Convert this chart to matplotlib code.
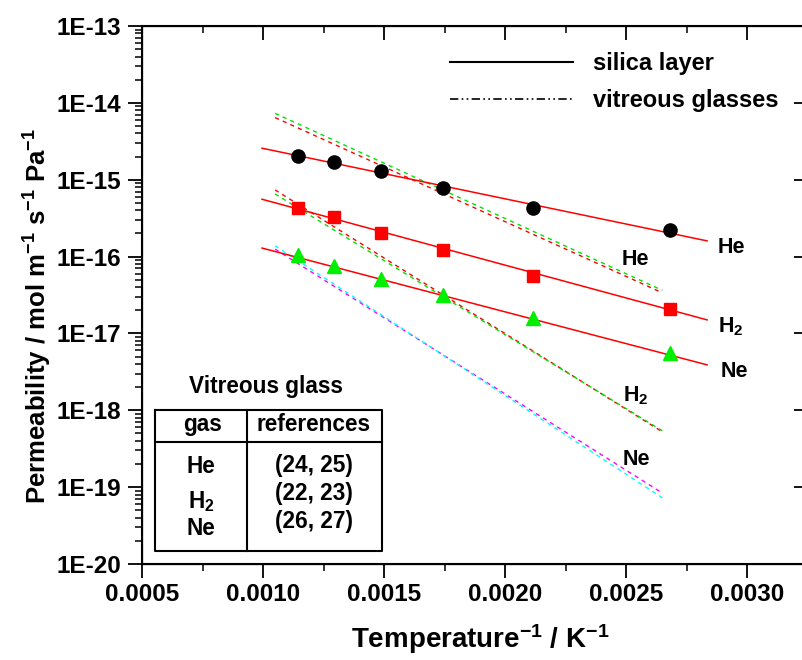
import numpy as np
import matplotlib
matplotlib.use("Agg")
import matplotlib.pyplot as plt
from matplotlib.lines import Line2D
from matplotlib.ticker import FixedLocator, NullLocator, FixedFormatter, NullFormatter

plt.rcParams['font.family'] = ['Liberation Sans', 'DejaVu Sans']
plt.rcParams['font.weight'] = 'bold'
plt.rcParams['mathtext.fontset'] = 'custom'
plt.rcParams['mathtext.rm'] = 'Liberation Sans:bold'
plt.rcParams['mathtext.it'] = 'Liberation Sans:bold'
plt.rcParams['mathtext.bf'] = 'Liberation Sans:bold'
plt.rcParams['mathtext.default'] = 'bf'

# measured points (1/T for 873..373 K)
inv_t = [0.001145, 0.001294, 0.001486, 0.001745, 0.002114, 0.002681]
he_perm = [2.04e-15, 1.70e-15, 1.30e-15, 7.8e-16, 4.3e-16, 2.22e-16]
h2_perm = [4.3e-16, 3.28e-16, 2.03e-16, 1.22e-16, 5.6e-17, 2.09e-17]
ne_perm = [1.05e-16, 7.6e-17, 5.1e-17, 3.2e-17, 1.6e-17, 5.6e-18]

# silica layer fits (end points of straight Arrhenius lines)
fit_x = [0.000996, 0.002835]
he_fit = [2.57e-15, 1.60e-16]
h2_fit = [5.57e-16, 1.50e-17]
ne_fit = [1.29e-16, 3.9e-18]

# vitreous glass literature lines
vit_x = [0.00105, 0.00265]
he_vit_1 = [7.3e-15, 3.64e-17]
he_vit_2 = [6.43e-15, 3.38e-17]
h2_vit_1 = [7.36e-16, 5.25e-19]
h2_vit_2 = [6.53e-16, 5.41e-19]
ne_vit_1 = [1.38e-16, 7.28e-20]
ne_vit_2 = [1.25e-16, 8.38e-20]

x_ticks = [0.0005, 0.0010, 0.0015, 0.0020, 0.0025, 0.0030]
x_tick_labels = ['0.0005', '0.0010', '0.0015', '0.0020', '0.0025', '0.0030']
x_minor = [0.00075, 0.00125, 0.00175, 0.00225, 0.00275, 0.00325]
y_exps = [-20, -19, -18, -17, -16, -15, -14, -13]
y_tick_labels = ['1E-20', '1E-19', '1E-18', '1E-17', '1E-16', '1E-15', '1E-14', '1E-13']

table_gas = ['He', 'H$_2$', 'Ne']
table_refs = ['(24, 25)', '(22, 23)', '(26, 27)']

W, H = 802, 660
fig = plt.figure(figsize=(W / 100, H / 100), dpi=100)


def fx(px):
    return px / W


def fy(py):
    return 1 - py / H


ax = fig.add_axes([fx(142), fy(564), (807.5 - 142) / W, (564 - 26) / H])
ax.set_yscale('log')
ax.set_xlim(0.0005, 0.00325)
ax.set_ylim(1e-20, 1e-13)

dash = (0, (3, 3))
ax.plot(vit_x, he_vit_2, color='#ff0000', lw=1, ls=dash)
ax.plot(vit_x, he_vit_1, color='#00e000', lw=1, ls=dash)
ax.plot(vit_x, h2_vit_1, color='#ff0000', lw=1, ls=dash)
ax.plot(vit_x, h2_vit_2, color='#00e000', lw=1, ls=dash)
ax.plot(vit_x, ne_vit_2, color='#ff00ff', lw=1, ls=dash)
ax.plot(vit_x, ne_vit_1, color='#00ffff', lw=1, ls=dash)

for fit in (he_fit, h2_fit, ne_fit):
    ax.plot(fit_x, fit, color='#ff0000', lw=1.1)

ax.plot(inv_t, he_perm, 'o', color='black', ms=9.5, zorder=5)
ax.plot(inv_t, h2_perm, 's', color='#ff0000', ms=8, zorder=5)
ax.plot(inv_t, ne_perm, '^', color='#00ee00', ms=10, zorder=5)

lab_kw = dict(fontsize=15.5, fontweight='bold', va='baseline', ha='left')
ax.text(0.00288, 1.11e-16, 'He', **lab_kw)
ax.text(0.00288, 1.02e-17, 'H$_2$', **lab_kw)
ax.text(0.00289, 2.7e-18, 'Ne', **lab_kw)
ax.text(0.002483, 7.8e-17, 'He', **lab_kw)
ax.text(0.002488, 1.30e-18, 'H$_2$', **lab_kw)
ax.text(0.002488, 1.95e-19, 'Ne', **lab_kw)

# axes ticks
y_major = [10.0 ** e for e in y_exps]
y_minor = [m * 10.0 ** e for e in y_exps[:-1] for m in range(2, 10)]
ax.xaxis.set_major_locator(FixedLocator(x_ticks))
ax.xaxis.set_major_formatter(FixedFormatter(x_tick_labels))
ax.xaxis.set_minor_locator(FixedLocator(x_minor))
ax.yaxis.set_major_locator(FixedLocator(y_major))
ax.yaxis.set_major_formatter(FixedFormatter(y_tick_labels))
ax.yaxis.set_minor_locator(FixedLocator(y_minor))
ax.yaxis.set_minor_formatter(NullFormatter())
ax.tick_params(which='major', direction='out', length=10, width=1.3, labelsize=17.5, top=False, right=False)
ax.tick_params(which='minor', direction='out', length=5, width=1.1, top=False, right=False)
ax.tick_params(axis='x', which='major', pad=4)
ax.tick_params(axis='y', which='major', pad=5)
for lab in ax.get_xticklabels() + ax.get_yticklabels():
    lab.set_fontweight('bold')
for sp in ax.spines.values():
    sp.set_linewidth(1.5)

ax_top = ax.twiny()
ax_top.set_xlim(ax.get_xlim())
ax_top.xaxis.set_major_locator(FixedLocator(x_ticks))
ax_top.xaxis.set_minor_locator(FixedLocator(x_minor))
ax_top.xaxis.set_major_formatter(NullFormatter())
ax_top.tick_params(which='major', direction='in', length=10, width=1.3,
                   labeltop=False, labelbottom=False)
ax_top.tick_params(which='minor', direction='in', length=5, width=1.1)

ax_right = ax.twinx()
ax_right.set_yscale('log')
ax_right.set_ylim(ax.get_ylim())
ax_right.yaxis.set_major_locator(FixedLocator(y_major))
ax_right.yaxis.set_minor_locator(NullLocator())
ax_right.yaxis.set_major_formatter(NullFormatter())
ax_right.tick_params(which='major', direction='in', length=10, width=1.3,
                     labelright=False, labelleft=False)

# axis titles
fig.text(fx(480), fy(648), 'Temperature$^{-1}$ / K$^{-1}$', fontsize=20,
         fontweight='bold', ha='center', va='baseline')
fig.text(fx(38), fy(316), 'Permeability / mol m$^{-1}$ s$^{-1}$ Pa$^{-1}$', fontsize=18.5,
         fontweight='bold', ha='center', va='center', rotation=90)

# legend
handles = [Line2D([], [], color='black', lw=1.5),
           Line2D([], [], color='black', lw=1.2, ls=(0, (5, 2, 1, 2, 1, 2)))]
ax.legend(handles, ['silica layer', 'vitreous glasses'], loc='upper left',
          bbox_to_anchor=(fx(450), fy(52)), bbox_transform=fig.transFigure,
          frameon=False, borderpad=0, borderaxespad=0, handlelength=5.2,
          handletextpad=0.85, labelspacing=0.6, prop=dict(size=17, weight='bold'))

# table of vitreous glass references
tl = dict(color='black', lw=1.5, transform=fig.transFigure)
left, mid, right, top, hdr, bot = 155, 247, 382, 410, 442, 551
fig.add_artist(Line2D([fx(left), fx(right), fx(right), fx(left), fx(left)],
                      [fy(top), fy(top), fy(bot), fy(bot), fy(top)], **tl))
fig.add_artist(Line2D([fx(left), fx(right)], [fy(hdr), fy(hdr)], **tl))
fig.add_artist(Line2D([fx(mid), fx(mid)], [fy(top), fy(bot)], **tl))

tk = dict(fontsize=16.3, fontweight='bold', ha='center', va='baseline')
fig.text(fx(266), fy(393), 'Vitreous glass', **tk)
fig.text(fx(202), fy(431), 'gas', **tk)
fig.text(fx(314), fy(431), 'references', **tk)
gas_base = [473, 508, 535]
ref_base = [472, 500, 528]
for g, r, gb, rb in zip(table_gas, table_refs, gas_base, ref_base):
    fig.text(fx(201), fy(gb), g, **tk)
    fig.text(fx(314), fy(rb), r, **tk)

fig.savefig('out.png', dpi=100)
